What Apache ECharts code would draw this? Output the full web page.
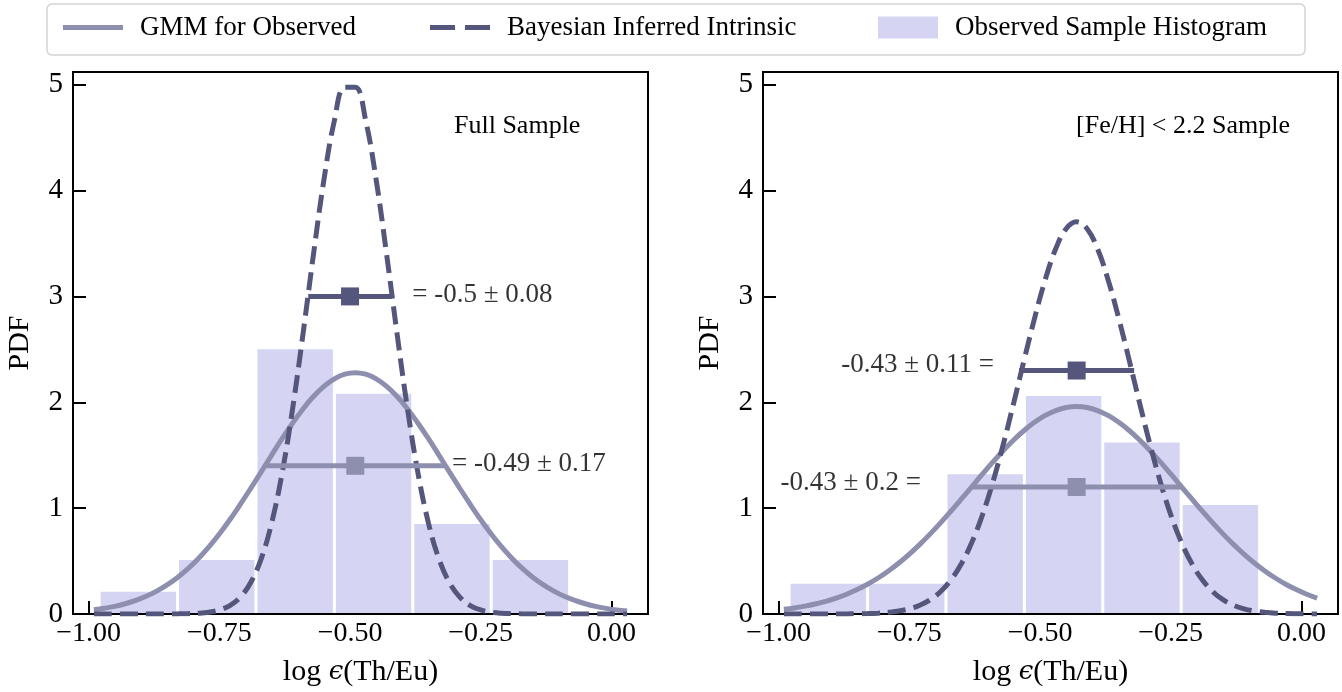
<!DOCTYPE html>
<html>
<head>
<meta charset="utf-8">
<script src="https://cdn.jsdelivr.net/npm/echarts@6/dist/echarts.min.js"></script>
<style>
  html, body { margin: 0; background: #fff; }
  #chart { width: 1342px; height: 692px; }
</style>
</head>
<body>
<div id="chart"></div>
<script>
// grid of x positions for the curves
var xs = [-0.99,-0.97,-0.95,-0.93,-0.91,-0.89,-0.87,-0.85,-0.83,-0.81,-0.79,-0.77,-0.75,-0.73,-0.71,-0.69,-0.67,-0.65,-0.63,-0.61,
  -0.59,-0.57,-0.55,-0.53,-0.51,-0.49,-0.47,-0.45,-0.43,-0.41,-0.39,-0.37,-0.35,-0.33,-0.31,-0.29,-0.27,-0.25,-0.23,-0.21,
  -0.19,-0.17,-0.15,-0.13,-0.11,-0.09,-0.07,-0.05,-0.03,-0.01,0.01,0.03];

// Full sample
var gmmFull = [0.040,0.054,0.072,0.097,0.128,0.167,0.216,0.275,0.345,0.428,0.525,0.634,0.756,0.890,1.035,1.187,1.343,1.501,1.656,1.802,
  1.937,2.054,2.150,2.221,2.265,2.280,2.265,2.221,2.150,2.054,1.937,1.802,1.656,1.501,1.343,1.187,1.035,0.890,0.756,0.634,
  0.525,0.428,0.345,0.275,0.216,0.167,0.128,0.097,0.072,0.053,0.038,0.028];
var intrFull = [0,0,0,0,0,0,0,0,0.001,0.003,0.007,0.017,0.038,0.080,0.159,0.297,0.521,0.859,1.330,1.935,
  2.645,3.396,4.100,4.660,4.975,4.975,4.660,4.100,3.396,2.645,1.935,1.330,0.859,0.521,0.297,0.159,0.080,0.038,0.017,0.007,
  0.003,0.001,0,0,0,0,0,0,0,0,0,0];
var histFull = [0.21, 0.51, 2.50, 2.08, 0.85, 0.51];

// [Fe/H] < 2.2 sample
var gmmSub = [0.044,0.057,0.074,0.094,0.120,0.150,0.187,0.231,0.281,0.340,0.407,0.482,0.566,0.658,0.757,0.863,0.974,1.089,1.206,1.323,
  1.437,1.545,1.646,1.736,1.814,1.876,1.922,1.951,1.960,1.951,1.922,1.876,1.814,1.736,1.646,1.545,1.437,1.323,1.206,1.089,
  0.974,0.863,0.757,0.658,0.566,0.482,0.407,0.340,0.281,0.231,0.187,0.150];
var intrSub = [0,0,0,0,0,0,0.001,0.002,0.004,0.008,0.016,0.028,0.049,0.083,0.135,0.213,0.325,0.479,0.682,0.939,
  1.250,1.609,2.002,2.409,2.803,3.160,3.450,3.640,3.705,3.640,3.450,3.160,2.803,2.409,2.002,1.609,1.250,0.939,0.682,0.479,
  0.325,0.213,0.135,0.083,0.049,0.028,0.016,0.008,0.004,0.002,0.001,0];
var histSub = [0.285, 0.285, 1.32, 2.06, 1.62, 1.03];

var binEdges = [-0.98, -0.83, -0.68, -0.53, -0.38, -0.23, -0.08];

// mean, sigma, height of marker line, kind (1 = intrinsic)
var errFull = [[-0.5, 0.08, 3.0, 1], [-0.49, 0.17, 1.4, 0]];
var errSub = [[-0.43, 0.11, 2.3, 1], [-0.43, 0.2, 1.2, 0]];

var labelsFull = ['= -0.5 \u00b1 0.08', '= -0.49 \u00b1 0.17'];
var labelsSub = ['-0.43 \u00b1 0.11 =', '-0.43 \u00b1 0.2 ='];
var labelPosFull = [[-0.381, 3.01], [-0.305, 1.42]];
var labelPosSub = [[-0.588, 2.35], [-0.728, 1.236]];

var xTicks = [-1, -0.75, -0.5, -0.25, 0];
var yTicks = [0, 1, 2, 3, 4, 5];

var FONT = 'Liberation Serif';
var solidColor = '#8e8eae';
var dashColor = '#55567c';
var histColor = '#d5d5f3';

var chart = echarts.init(document.getElementById('chart'));

var fmtX = v => (v < 0 ? '\u2212' : '') + Math.abs(v).toFixed(2);

function makeX(i) {
  return {
    gridIndex: i, type: 'value', min: -1.03, max: 0.07,
    axisLine: { show: false, onZero: false }, splitLine: { show: false },
    axisTick: { inside: true, length: 13, customValues: xTicks, lineStyle: { color: '#000', width: 2 } },
    axisLabel: { customValues: xTicks, formatter: fmtX, fontFamily: FONT, fontSize: 28, color: '#000', margin: 6 },
    name: 'log {e|\u03f5}(Th/Eu)', nameLocation: 'middle', nameGap: 43,
    nameTextStyle: { fontFamily: FONT, fontSize: 30, color: '#000',
      rich: { e: { fontFamily: 'DejaVu Serif', fontStyle: 'italic', fontSize: 26, color: '#000' } } }
  };
}
function makeY(i) {
  return {
    gridIndex: i, type: 'value', min: 0, max: 5.12,
    axisLine: { show: false, onZero: false }, splitLine: { show: false },
    axisTick: { inside: true, length: 13, customValues: yTicks, lineStyle: { color: '#000', width: 2 } },
    axisLabel: { customValues: yTicks, fontFamily: FONT, fontSize: 29, color: '#000', margin: 10 },
    name: 'PDF', nameLocation: 'middle', nameGap: 38,
    nameTextStyle: { fontFamily: FONT, fontSize: 30, color: '#000' }
  };
}

var pair = arr => xs.map((x, i) => [x, arr[i]]);

function panelSeries(i, gmm, intr, hist, err, labels, labelPos, labelSide) {
  return [
    {
      name: 'Observed Sample Histogram', type: 'custom', xAxisIndex: i, yAxisIndex: i,
      itemStyle: { color: histColor }, z: 1,
      data: hist.map((h, k) => [binEdges[k], binEdges[k + 1], h]),
      renderItem: function (params, api) {
        var p0 = api.coord([api.value(0), api.value(2)]);
        var p1 = api.coord([api.value(1), 0]);
        return { type: 'rect', shape: { x: p0[0] + 1.5, y: p0[1], width: p1[0] - p0[0] - 3, height: p1[1] - p0[1] - 1 },
          style: { fill: histColor } };
      }
    },
    {
      name: 'GMM for Observed', type: 'line', xAxisIndex: i, yAxisIndex: i, data: pair(gmm),
      smooth: 0.4, symbol: 'none', z: 3,
      lineStyle: { color: solidColor, width: 5 }, itemStyle: { color: solidColor }
    },
    {
      name: 'Bayesian Inferred Intrinsic', type: 'line', xAxisIndex: i, yAxisIndex: i, data: pair(intr),
      smooth: 0.4, symbol: 'none', z: 4,
      lineStyle: { color: dashColor, width: 5, type: [18, 8] }, itemStyle: { color: dashColor }
    },
    {
      type: 'custom', xAxisIndex: i, yAxisIndex: i, data: err, z: 5,
      renderItem: function (params, api) {
        var mu = api.value(0), s = api.value(1), y = api.value(2);
        var col = api.value(3) ? dashColor : solidColor;
        var a = api.coord([mu - s, y]), b = api.coord([mu + s, y]), c = api.coord([mu, y]);
        return { type: 'group', children: [
          { type: 'line', shape: { x1: a[0], y1: a[1], x2: b[0], y2: b[1] }, style: { stroke: col, lineWidth: 5 } },
          { type: 'rect', shape: { x: c[0] - 9, y: c[1] - 9, width: 18, height: 18 }, style: { fill: col } }
        ] };
      }
    },
    {
      type: 'scatter', xAxisIndex: i, yAxisIndex: i, symbolSize: 0, z: 6, silent: true,
      data: labelPos,
      label: {
        show: true, position: labelSide, distance: 0,
        formatter: p => labels[p.dataIndex],
        fontFamily: FONT, fontSize: 27, color: '#000'
      }
    }
  ];
}

var legendText = { fontFamily: FONT, fontSize: 27, color: '#000', padding: [0, 0, 0, 12] };
function makeLegend(name, icon, left, h) {
  return {
    data: [{ name: name, icon: icon }], left: left, top: 14, padding: 0,
    itemWidth: 60, itemHeight: h, textStyle: legendText,
    itemStyle: { borderWidth: 0 }, lineStyle: { width: 0 }
  };
}

var option = {
  animation: false,
  graphic: [{
    type: 'rect', shape: { x: 47, y: 4, width: 1258, height: 51, r: 5 },
    style: { fill: 'none', stroke: '#d4d4d4', lineWidth: 1.5 }
  }],
  legend: [
    makeLegend('GMM for Observed', 'rect', 63, 5),
    makeLegend('Bayesian Inferred Intrinsic', 'path://M0,0H25V5H0Z M35,0H60V5H35Z', 430, 5),
    makeLegend('Observed Sample Histogram', 'rect', 878, 22)
  ],
  title: [
    { text: 'Full Sample', left: 454, top: 113, padding: 0,
      textStyle: { fontFamily: FONT, fontSize: 26, fontWeight: 'normal', color: '#000' } },
    { text: '[Fe/H] < 2.2 Sample', right: 52, top: 113, padding: 0,
      textStyle: { fontFamily: FONT, fontSize: 26, fontWeight: 'normal', color: '#000' } }
  ],
  grid: [
    { left: 73, top: 72, width: 575, height: 542, show: true, borderColor: '#000', borderWidth: 2 },
    { left: 763, top: 72, width: 575, height: 542, show: true, borderColor: '#000', borderWidth: 2 }
  ],
  xAxis: [makeX(0), makeX(1)],
  yAxis: [makeY(0), makeY(1)],
  series: panelSeries(0, gmmFull, intrFull, histFull, errFull, labelsFull, labelPosFull, 'right')
    .concat(panelSeries(1, gmmSub, intrSub, histSub, errSub, labelsSub, labelPosSub, 'left'))
};

chart.setOption(option);
</script>
</body>
</html>
